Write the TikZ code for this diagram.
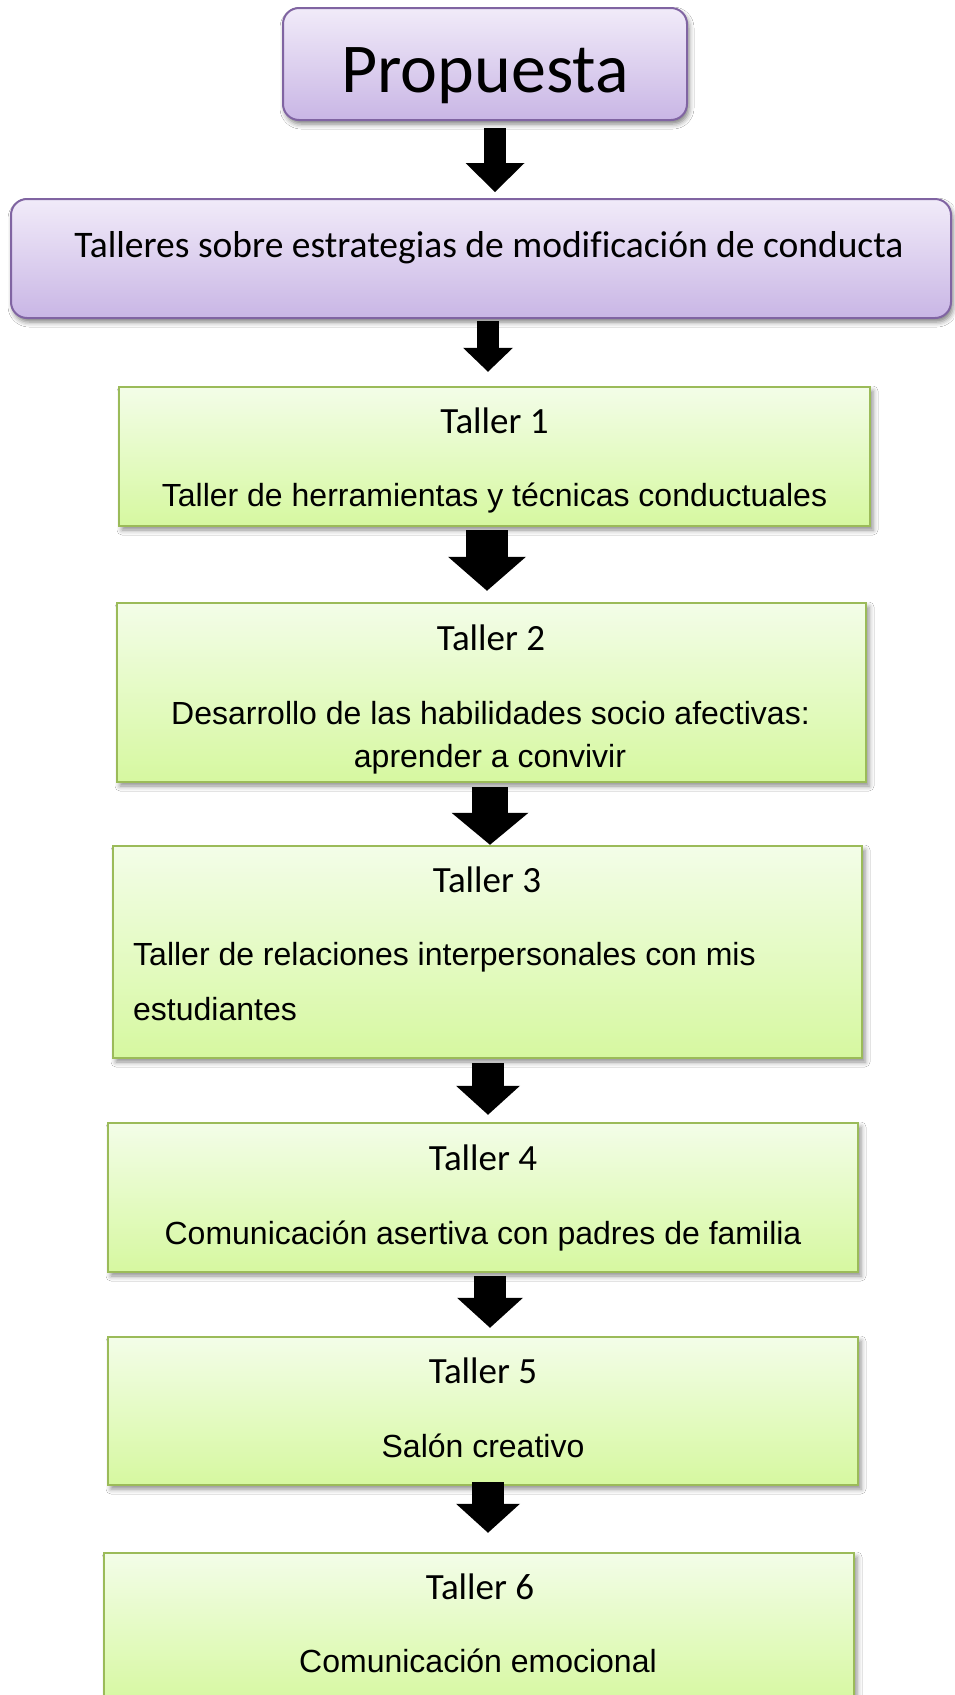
\documentclass[tikz,border=0pt]{standalone}
\usepackage{fontspec}
\newfontfamily\calfont[Ligatures=NoCommon]{Carlito}
\newfontfamily\arialfont{Liberation Sans}
\usetikzlibrary{arrows.meta,shadows.blur,calc}
\definecolor{purpTop}{RGB}{241,235,249}
\definecolor{purpBot}{RGB}{201,182,229}
\definecolor{purpEdge}{RGB}{128,100,162}
\definecolor{grTop}{RGB}{243,253,232}
\definecolor{grBot}{RGB}{214,248,160}
\definecolor{grEdge}{RGB}{155,187,89}
\tikzset{
  pbox/.style={draw=purpEdge, line width=2pt, rounded corners=16pt, top color=purpTop, bottom color=purpBot,
    blur shadow={shadow xshift=2pt, shadow yshift=-4pt, shadow blur radius=5pt, shadow opacity=50}, inner sep=0pt},
  gbox/.style={draw=grEdge, line width=2.5pt, top color=grTop, bottom color=grBot,
    blur shadow={shadow xshift=3pt, shadow yshift=-4pt, shadow blur radius=5pt, shadow opacity=45}, inner sep=0pt},
  ttl/.style={font=\calfont\fontsize{37}{44}\selectfont, anchor=base, inner sep=0pt},
  dsc/.style={font=\arialfont\fontsize{32}{38}\selectfont, anchor=base, inner sep=0pt},
  barrow/.style={draw=black, line cap=butt},
}
\begin{document}
\begin{tikzpicture}[x=1pt, y=-1pt]
\useasboundingbox (0,0) rectangle (954,1695);
\fill[white] (0,0) rectangle (954,1695);
% boxes
\node[pbox, minimum width=404pt, minimum height=112pt] (p) at (485,64) {};
\node[pbox, minimum width=940pt, minimum height=119pt] (t0) at (481,258.5) {};
\node[gbox, minimum width=751pt, minimum height=139pt] (t1) at (494.5,456.5) {};
\node[gbox, minimum width=749pt, minimum height=179pt] (t2) at (491.5,692.5) {};
\node[gbox, minimum width=749pt, minimum height=212pt] (t3) at (487.5,952) {};
\node[gbox, minimum width=750pt, minimum height=149pt] (t4) at (483,1197.5) {};
\node[gbox, minimum width=750pt, minimum height=148pt] (t5) at (483,1411) {};
\node[gbox, minimum width=750pt, minimum height=152pt] (t6) at (479,1629) {};
% texts
\node[anchor=base, inner sep=0pt, font=\calfont\fontsize{70}{84}\selectfont] (ptx) at (485,92) {Propuesta};
\node[anchor=base, inner sep=0pt, font=\calfont\fontsize{37.5}{45}\selectfont] (t0x) at (489,257) {Talleres sobre estrategias de modificación de conducta};
\node[ttl] (t1a) at (494.5,433) {Taller 1};
\node[dsc] (t1b) at (494.5,506) {Taller de herramientas y técnicas conductuales};
\node[ttl] (t2a) at (491,650) {Taller 2};
\node[dsc] (t2b) at (490.5,724) {Desarrollo de las habilidades socio afectivas:};
\node[dsc] (t2c) at (490,767) {aprender a convivir};
\node[ttl] (t3a) at (487,892) {Taller 3};
\node[dsc, anchor=base west] (t3b) at (133,965) {Taller de relaciones interpersonales con mis};
\node[dsc, anchor=base west] (t3c) at (133,1020) {estudiantes};
\node[ttl] (t4a) at (483,1170) {Taller 4};
\node[dsc] (t4b) at (483,1244) {Comunicación asertiva con padres de familia};
\node[ttl] (t5a) at (483,1383) {Taller 5};
\node[dsc] (t5b) at (483,1457) {Salón creativo};
\node[ttl] (t6a) at (480,1599) {Taller 6};
\node[dsc] (t6b) at (478,1672) {Comunicación emocional};
% arrows
\draw[barrow, line width=22pt, -{Triangle[length=29pt,width=59pt,line width=0pt]}] ($(p.south)+(10,7)$) -- ($(t0.north)+(14,-6)$);
\draw[barrow, line width=22pt, -{Triangle[length=24pt,width=50pt,line width=0pt]}] ($(t0.south)+(7,2)$) -- ($(t1.north)+(-6.5,-14)$);
\draw[barrow, line width=42pt, -{Triangle[length=34pt,width=78pt,line width=0pt]}] ($(t1.south)+(-7.5,3)$) -- ($(t2.north)+(-4.5,-11)$);
\draw[barrow, line width=36pt, -{Triangle[length=32pt,width=77pt,line width=0pt]}] ($(t2.south)+(-1.5,4)$) -- ($(t3.north)+(2.5,0)$);
\draw[barrow, line width=32pt, -{Triangle[length=29pt,width=64pt,line width=0pt]}] ($(t3.south)+(0.5,4)$) -- ($(t4.north)+(5,-7)$);
\draw[barrow, line width=32pt, -{Triangle[length=30pt,width=66pt,line width=0pt]}] ($(t4.south)+(7,3)$) -- ($(t5.north)+(7,-8)$);
\draw[barrow, line width=32pt, -{Triangle[length=29pt,width=64pt,line width=0pt]}] ($(t5.south)+(5,-4)$) -- ($(t6.north)+(9,-19)$);
\end{tikzpicture}
\end{document}
